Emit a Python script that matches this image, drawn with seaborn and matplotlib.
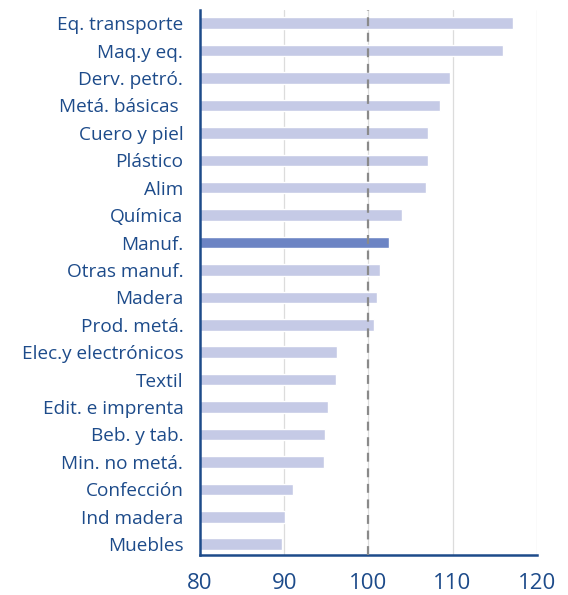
import pandas as pd
import seaborn as sns
import matplotlib.pyplot as plt

# Data (index, 100 = reference)
sectors = ['Eq. transporte', 'Maq.y eq.', 'Derv. petró.', 'Metá. básicas ',
           'Cuero y piel', 'Plástico', 'Alim', 'Química', 'Manuf.',
           'Otras manuf.', 'Madera', 'Prod. metá.', 'Elec.y electrónicos',
           'Textil', 'Edit. e imprenta', 'Beb. y tab.', 'Min. no metá.',
           'Confección', 'Ind madera', 'Muebles']
values = [117.2, 116.0, 109.7, 108.5, 107.1, 107.1, 106.8, 104.0, 102.4,
          101.4, 101.0, 100.7, 96.3, 96.1, 95.2, 94.8, 94.7, 91.0, 90.1, 89.7]
highlight = 'Manuf.'
xticks = [80, 90, 100, 110, 120]

df = pd.DataFrame({'sector': sectors, 'value': values})

blue = '#1d4b8a'
light = '#c5cae6'
dark = '#6c84c4'
palette = {s: (dark if s == highlight else light) for s in sectors}

sns.set_style('white')
plt.rcParams['font.family'] = ['Open Sans', 'DejaVu Sans']

fig = plt.figure(figsize=(5.68, 5.95), dpi=100)
ax = fig.add_axes([0.352, 0.067, 0.593, 0.917])

ax.grid(axis='x', color='#dcdcdc', linewidth=0.9, zorder=0)
ax.set_axisbelow(True)

sns.barplot(data=df, x='value', y='sector', hue='sector', palette=palette,
            saturation=1, legend=False, width=0.42, orient='h', ax=ax,
            zorder=2)

ax.axvline(100, color='#8a8a8a', linestyle=(0, (4, 3)), linewidth=1.6, zorder=3)

ax.set_xlim(80, 120)
ax.set_ylim(len(sectors) - 0.6, -0.5)
ax.set_xticks(xticks)
ax.set_xlabel('')
ax.set_ylabel('')

for side in ['top', 'right']:
    ax.spines[side].set_visible(False)
for side in ['left', 'bottom']:
    ax.spines[side].set_color(blue)
    ax.spines[side].set_linewidth(1.8)

ax.tick_params(axis='x', colors=blue, labelsize=16, length=5, width=1.5,
               direction='out', pad=8)
ax.tick_params(axis='y', colors=blue, labelsize=13.7, length=0, pad=12)
for lab in ax.get_yticklabels() + ax.get_xticklabels():
    lab.set_color(blue)
    lab.set_fontweight('medium')

fig.savefig('out.png', dpi=100)
